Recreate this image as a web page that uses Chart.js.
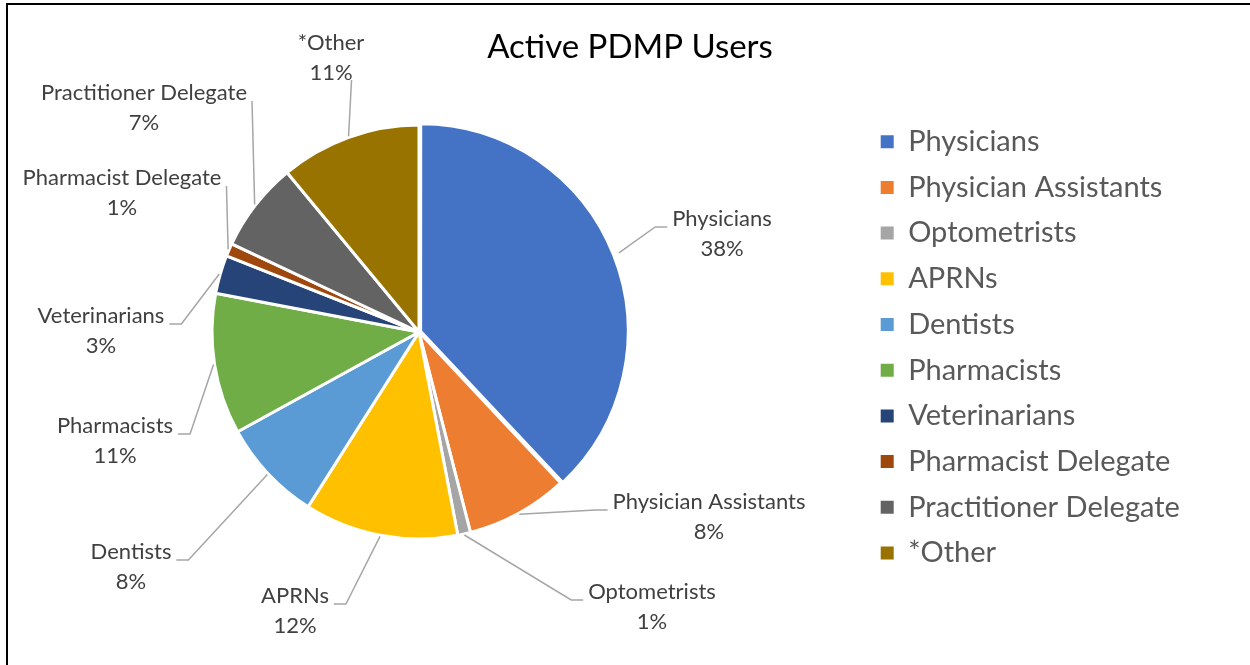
<!DOCTYPE html>
<html>
<head>
<meta charset="utf-8">
<title>Active PDMP Users</title>
<script src="https://cdn.jsdelivr.net/npm/chart.js@4/dist/chart.umd.min.js"></script>
<style>
  html, body { margin: 0; padding: 0; background: #fff; }
  #wrap { position: relative; width: 1250px; height: 665px; overflow: hidden; }
  #frame { position: absolute; left: 6px; top: 3px; right: -10px; bottom: -10px;
           border-top: 2px solid #000; border-left: 2px solid #000; }
  #pieChart { position: absolute; left: 0; top: 0; }
</style>
</head>
<body>
<div id="wrap">
  <div id="frame"></div>
  <canvas id="pieChart" width="1250" height="665"></canvas>
</div>
<script>
// === DATA ===
const categories = ["Physicians", "Physician Assistants", "Optometrists", "APRNs", "Dentists",
  "Pharmacists", "Veterinarians", "Pharmacist Delegate", "Practitioner Delegate", "*Other"];
const shares = [38, 8, 1, 12, 8, 11, 3, 1, 7, 11];

// === STYLE / LAYOUT ===
const sliceColors = ["#4472C4", "#ED7D31", "#A5A5A5", "#FFC000", "#5B9BD5",
  "#70AD47", "#264478", "#9E480E", "#636363", "#997300"];
const explode = [7, 0, 0, 0, 0, 0, 0, 0, 0, 0];
// label block centres, relative to the pie centre
const labelSpots = [[303, -98], [290, 185], [233, 275], [-124, 279], [-288, 235],
  [-304, 109], [-318, -1], [-297, -139], [-275, -224], [-88, -274]];

const FONT = "Lato";
const LABEL_SIZE = 22;
const LEGEND_WIDTH = 421;
const PIE_CX = 419;

Chart.defaults.font.family = FONT;

// legend box gets a fixed width
const fixedLegendWidth = {
  id: "fixedLegendWidth",
  beforeInit(chart) {
    const fit = chart.legend.fit;
    chart.legend.fit = function () {
      fit.call(this);
      this.width = LEGEND_WIDTH;
    };
  }
};

// stretch the chart area to the left so the pie centre lands on PIE_CX
const pieCentre = {
  id: "pieCentre",
  afterLayout(chart) {
    const a = chart.chartArea;
    a.left = PIE_CX * 2 - a.right;
    a.width = a.right - a.left;
  }
};

// category + percent labels outside the pie, with leader lines
const outsideLabels = {
  id: "outsideLabels",
  afterDatasetsDraw(chart) {
    const ctx = chart.ctx;
    const meta = chart.getDatasetMeta(0);
    const total = shares.reduce((a, b) => a + b, 0);
    ctx.save();
    ctx.font = LABEL_SIZE + "px " + FONT;
    ctx.textAlign = "center";
    ctx.textBaseline = "middle";
    meta.data.forEach((arc, i) => {
      const { x, y, startAngle, endAngle, outerRadius } =
        arc.getProps(["x", "y", "startAngle", "endAngle", "outerRadius"], true);
      const mid = (startAngle + endAngle) / 2;
      const r = outerRadius + (arc.options.offset || 0) + 1;
      const ax = x + Math.cos(mid) * r;
      const ay = y + Math.sin(mid) * r;

      const tx = x + labelSpots[i][0];
      const ty = y + labelSpots[i][1];
      const line1 = categories[i];
      const line2 = Math.round(shares[i] / total * 100) + "%";
      const w = Math.max(ctx.measureText(line1).width, ctx.measureText(line2).width);
      const left = tx - w / 2, right = tx + w / 2;

      const pts = [[ax, ay]];
      if (ax > left - 5 && ax < right + 5 && ty < ay - 40) {
        pts.push([ax + 3, ty + 22]);
      } else {
        const onRight = tx > ax;
        const ex = onRight ? left - 5 : right + 5;
        const ey = ty - 7;
        if (Math.abs(ax - ex) > 30) pts.push([onRight ? ex - 12 : ex + 12, ey]);
        pts.push([ex, ey]);
      }
      ctx.strokeStyle = "#A6A6A6";
      ctx.lineWidth = 1.5;
      ctx.beginPath();
      pts.forEach((p, k) => k ? ctx.lineTo(p[0], p[1]) : ctx.moveTo(p[0], p[1]));
      ctx.stroke();

      ctx.fillStyle = "#404040";
      ctx.fillText(line1, tx, ty - 15);
      ctx.fillText(line2, tx, ty + 15);
    });
    ctx.restore();
  }
};

new Chart(document.getElementById("pieChart"), {
  type: "pie",
  data: {
    labels: categories,
    datasets: [{
      data: shares,
      backgroundColor: sliceColors,
      borderColor: "#fff",
      borderWidth: 3,
      offset: explode,
      hoverOffset: 0
    }]
  },
  options: {
    responsive: false,
    devicePixelRatio: 1,
    animation: false,
    events: [],
    radius: 207,
    layout: { padding: { top: 10, left: -25, right: -35, bottom: 80.8 } },
    plugins: {
      title: {
        display: true,
        text: "Active PDMP Users",
        color: "#000",
        font: { size: 33, weight: "normal" },
        padding: { top: 17.2, bottom: 13 }
      },
      legend: {
        position: "right",
        align: "end",
        labels: {
          boxWidth: 13,
          boxHeight: 13,
          padding: 16.7,
          color: "#595959",
          font: { size: 29 },
          generateLabels(chart) {
            return Chart.DoughnutController.overrides.plugins.legend.labels
              .generateLabels(chart).map(item => ({ ...item, lineWidth: 0 }));
          }
        }
      },
      tooltip: { enabled: false }
    }
  },
  plugins: [fixedLegendWidth, pieCentre, outsideLabels]
});
</script>
</body>
</html>
